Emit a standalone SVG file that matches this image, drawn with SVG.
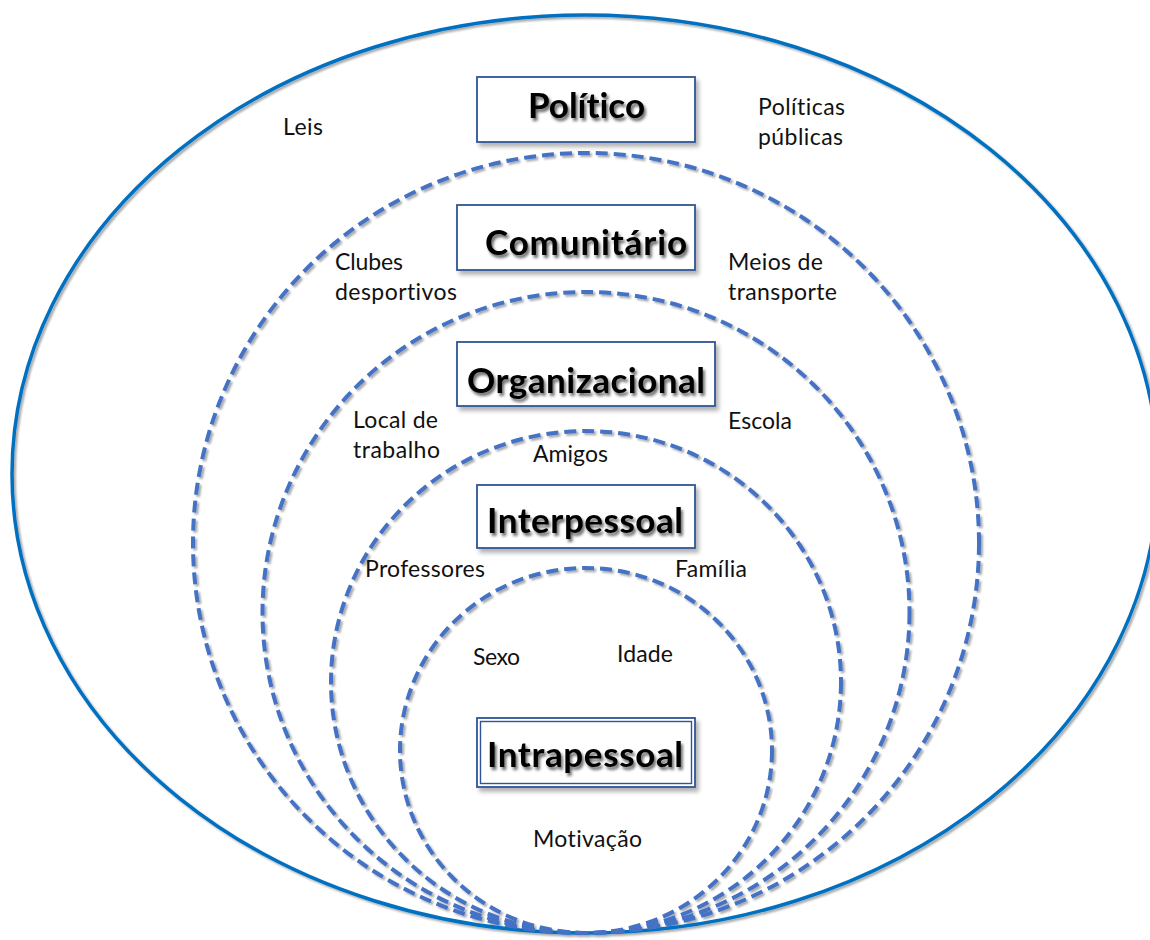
<svg xmlns="http://www.w3.org/2000/svg" width="1150" height="940" viewBox="0 0 1150 940">
  <style>
    .outer { fill: none; stroke: #0070C0; stroke-width: 3.5; }
    .ring { fill: none; stroke: #4472C4; stroke-width: 4; stroke-dasharray: 12 6; }
    .box { fill: #ffffff; stroke: #2F5597; stroke-width: 1.8; }
    .box-thin { fill: none; stroke: #2F5597; stroke-width: 1.4; }
    text { font-variant-ligatures: none; font-feature-settings: "liga" 0, "clig" 0; }
    .title { font-family: Lato, "Open Sans", "Liberation Sans", sans-serif; font-weight: 700; font-size: 35px; fill: #000000; }
    .label { font-family: Lato, "Open Sans", "Liberation Sans", sans-serif; font-size: 23px; fill: #111111; }
  </style>
  <defs>
    <filter id="lineShadow" filterUnits="userSpaceOnUse" x="0" y="0" width="1150" height="940">
      <feGaussianBlur in="SourceAlpha" stdDeviation="1.2"/>
      <feOffset dx="2" dy="2" result="off"/>
      <feComponentTransfer><feFuncA type="linear" slope="0.35"/></feComponentTransfer>
      <feMerge><feMergeNode/><feMergeNode in="SourceGraphic"/></feMerge>
    </filter>
    <filter id="boxShadow" x="-10%" y="-20%" width="130%" height="160%">
      <feGaussianBlur in="SourceAlpha" stdDeviation="2"/>
      <feOffset dx="3" dy="4"/>
      <feComponentTransfer><feFuncA type="linear" slope="0.3"/></feComponentTransfer>
      <feMerge><feMergeNode/><feMergeNode in="SourceGraphic"/></feMerge>
    </filter>
    <filter id="textShadow" x="-10%" y="-30%" width="130%" height="170%">
      <feGaussianBlur in="SourceAlpha" stdDeviation="1.6"/>
      <feOffset dx="2" dy="2.5"/>
      <feComponentTransfer><feFuncA type="linear" slope="0.6"/></feComponentTransfer>
      <feMerge><feMergeNode/><feMergeNode in="SourceGraphic"/></feMerge>
    </filter>
  </defs>

  <rect x="0" y="0" width="1150" height="940" fill="#ffffff"/>

  <!-- nested levels, all sharing the bottom point -->
  <g id="rings" filter="url(#lineShadow)">
    <ellipse id="ring-politico" class="outer" cx="585" cy="474" rx="573" ry="459"/>
    <ellipse id="ring-comunitario" class="ring" cx="586" cy="543" rx="393" ry="390"/>
    <ellipse id="ring-organizacional" class="ring" cx="586" cy="612.5" rx="323.5" ry="320.5"/>
    <ellipse id="ring-interpessoal" class="ring" cx="586" cy="682" rx="255" ry="251"/>
    <ellipse id="ring-intrapessoal" class="ring" cx="586" cy="750.5" rx="186" ry="182.5"/>
  </g>

  <!-- level titles -->
  <g id="node-politico">
    <rect class="box" x="477" y="77" width="218" height="65" filter="url(#boxShadow)"/>
    <text class="title" x="528" y="118" textLength="117" filter="url(#textShadow)">Político</text>
  </g>
  <g id="node-comunitario">
    <rect class="box" x="457" y="205" width="238" height="65" filter="url(#boxShadow)"/>
    <text class="title" x="485" y="255" textLength="202" filter="url(#textShadow)">Comunitário</text>
  </g>
  <g id="node-organizacional">
    <rect class="box" x="457" y="342" width="258" height="64" filter="url(#boxShadow)"/>
    <text class="title" x="467" y="393" textLength="238" filter="url(#textShadow)">Organizacional</text>
  </g>
  <g id="node-interpessoal">
    <rect class="box" x="477" y="485" width="218" height="63" filter="url(#boxShadow)"/>
    <text class="title" x="487" y="533" textLength="196" filter="url(#textShadow)">Interpessoal</text>
  </g>
  <g id="node-intrapessoal">
    <rect class="box" x="477" y="718" width="218" height="69" filter="url(#boxShadow)"/>
    <rect class="box-thin" x="480.5" y="721.5" width="211" height="62"/>
    <text class="title" x="487" y="767" textLength="196" filter="url(#textShadow)">Intrapessoal</text>
  </g>

  <!-- factors for each level -->
  <g id="labels">
    <text class="label" x="283" y="135" textLength="40">Leis</text>
    <text class="label" x="758" y="115" textLength="87">Políticas</text>
    <text class="label" x="758" y="145" textLength="85">públicas</text>
    <text class="label" x="335" y="270" textLength="68">Clubes</text>
    <text class="label" x="335" y="300" textLength="122">desportivos</text>
    <text class="label" x="728" y="270" textLength="95">Meios de</text>
    <text class="label" x="728" y="300" textLength="109">transporte</text>
    <text class="label" x="353" y="428" textLength="85">Local de</text>
    <text class="label" x="353" y="458" textLength="87">trabalho</text>
    <text class="label" x="728" y="429" textLength="64">Escola</text>
    <text class="label" x="533" y="462" textLength="75">Amigos</text>
    <text class="label" x="365" y="577" textLength="120">Professores</text>
    <text class="label" x="675" y="577" textLength="72">Família</text>
    <text class="label" x="473" y="665" textLength="47">Sexo</text>
    <text class="label" x="617" y="662" textLength="56">Idade</text>
    <text class="label" x="533" y="847" textLength="109">Motivação</text>
  </g>
</svg>
